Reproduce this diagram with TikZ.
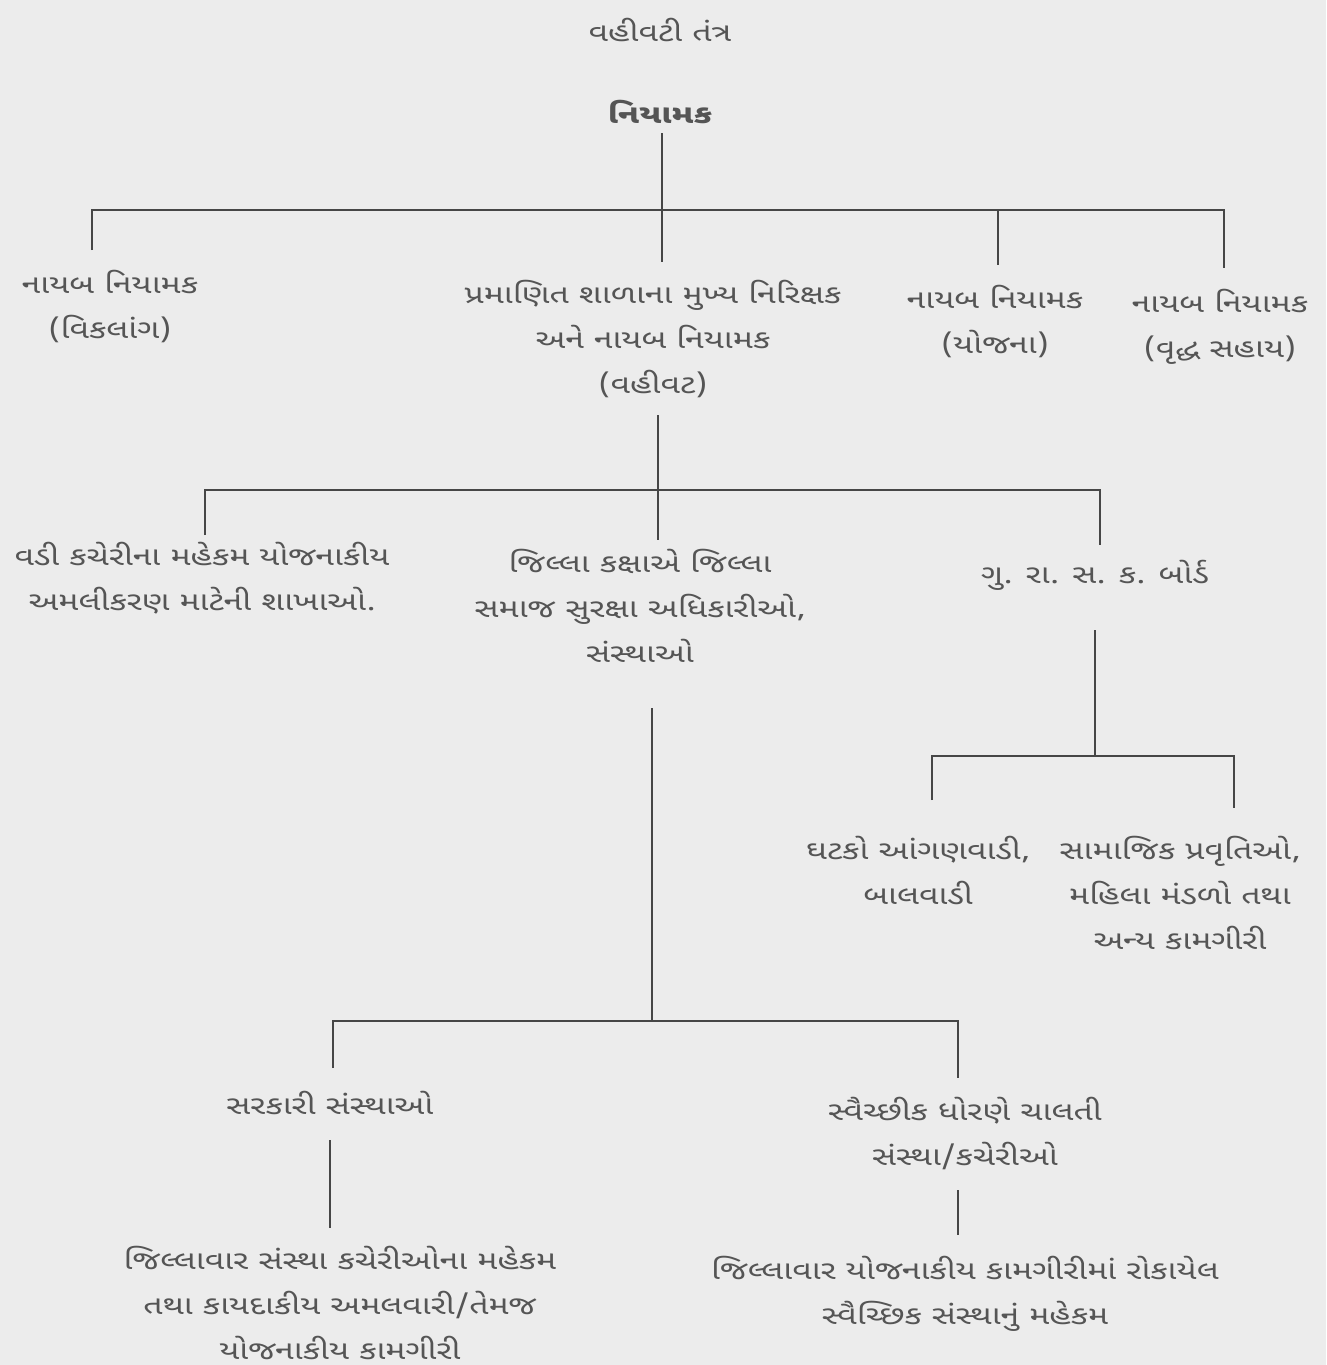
\documentclass[tikz,border=0pt]{standalone}
\usepackage{fontspec}
\newfontfamily\guj[Script=Gujarati,FakeStretch=1.3]{Noto Sans Gujarati UI}
\definecolor{paper}{RGB}{236,236,236}
\definecolor{ink}{RGB}{85,85,85}
\definecolor{rule}{RGB}{70,70,70}
\begin{document}
\begin{tikzpicture}[x=1pt,y=-1pt,
  lbl/.style={align=center,text=ink,inner sep=0pt,font=\guj\fontsize{26}{45}\selectfont},
  conn/.style={draw=rule,line width=1.3pt}]
\fill[paper] (0,0) rectangle (1326,1365);
\useasboundingbox (0,0) rectangle (1326,1365);
% texts
\node[lbl] (title) at (660,30) {વહીવટી તંત્ર};
\node[lbl,font=\guj\bfseries\fontsize{26}{45}\selectfont] (niy) at (660,112) {નિયામક};
\node[lbl,anchor=north] (vik) at (110,270) {નાયબ નિયામક\\(વિકલાંગ)};
\node[lbl,anchor=north] (vah) at (653,280) {પ્રમાણિત શાળાના મુખ્ય નિરિક્ષક\\અને નાયબ નિયામક\\(વહીવટ)};
\node[lbl,anchor=north] (yoj) at (995,285) {નાયબ નિયામક\\(યોજના)};
\node[lbl,anchor=north] (vrd) at (1220,289) {નાયબ નિયામક\\(વૃદ્ધ સહાય)};
\node[lbl,anchor=north] (vadi) at (202,542) {વડી કચેરીના મહેકમ યોજનાકીય\\અમલીકરણ માટેની શાખાઓ.};
\node[lbl,anchor=north] (jil) at (640,549) {જિલ્લા કક્ષાએ જિલ્લા\\સમાજ સુરક્ષા અધિકારીઓ,\\સંસ્થાઓ};
\node[lbl] (board) at (1095,575) {ગુ. રા. સ. ક. બોર્ડ};
\node[lbl,anchor=north] (ghat) at (918,836) {ઘટકો આંગણવાડી,\\બાલવાડી};
\node[lbl,anchor=north] (sam) at (1180,836) {સામાજિક પ્રવૃતિઓ,\\મહિલા મંડળો તથા\\અન્ય કામગીરી};
\node[lbl] (sar) at (330,1103) {સરકારી સંસ્થાઓ};
\node[lbl,anchor=north] (svai) at (965,1097) {સ્વૈચ્છીક ધોરણે ચાલતી\\સંસ્થા/કચેરીઓ};
\node[lbl,anchor=north] (bl) at (340,1246) {જિલ્લાવાર સંસ્થા કચેરીઓના મહેકમ\\તથા કાયદાકીય અમલવારી/તેમજ\\યોજનાકીય કામગીરી};
\node[lbl,anchor=north] (br) at (965,1256) {જિલ્લાવાર યોજનાકીય કામગીરીમાં રોકાયેલ\\સ્વૈચ્છિક સંસ્થાનું મહેકમ};
% connector coordinates
\coordinate (t1) at (662,133);
\coordinate (b1) at (662,210);
\coordinate (b1l) at (92,210);
\coordinate (b1r) at (1224,210);
\coordinate (d1a) at (92,250);
\coordinate (d1b) at (662,262);
\coordinate (d1c) at (998,265);
\coordinate (d1d) at (1224,268);
\coordinate (c1c) at (998,210);
\coordinate (t2) at (658,415);
\coordinate (b2) at (658,490);
\coordinate (b2l) at (205,490);
\coordinate (b2r) at (1100,490);
\coordinate (d2a) at (205,535);
\coordinate (d2b) at (658,540);
\coordinate (d2c) at (1100,545);
\coordinate (t3) at (1095,630);
\coordinate (b3) at (1095,756);
\coordinate (b3l) at (932,756);
\coordinate (b3r) at (1234,756);
\coordinate (d3a) at (932,800);
\coordinate (d3b) at (1234,808);
\coordinate (t4) at (652,708);
\coordinate (b4) at (652,1021);
\coordinate (b4l) at (333,1021);
\coordinate (b4r) at (958,1021);
\coordinate (d4a) at (333,1068);
\coordinate (d4b) at (958,1078);
\coordinate (t5a) at (330,1140);
\coordinate (e5a) at (330,1228);
\coordinate (t5b) at (958,1190);
\coordinate (e5b) at (958,1235);
% connectors
\draw[conn] (t1) -- (b1);
\draw[conn] (d1a) -- (b1l) -- (b1r) -- (d1d);
\draw[conn] (b1) -- (d1b);
\draw[conn] (c1c) -- (d1c);
\draw[conn] (t2) -- (b2);
\draw[conn] (d2a) -- (b2l) -- (b2r) -- (d2c);
\draw[conn] (b2) -- (d2b);
\draw[conn] (t3) -- (b3);
\draw[conn] (d3a) -- (b3l) -- (b3r) -- (d3b);
\draw[conn] (t4) -- (b4);
\draw[conn] (d4a) -- (b4l) -- (b4r) -- (d4b);
\draw[conn] (t5a) -- (e5a);
\draw[conn] (t5b) -- (e5b);
\end{tikzpicture}
\end{document}
